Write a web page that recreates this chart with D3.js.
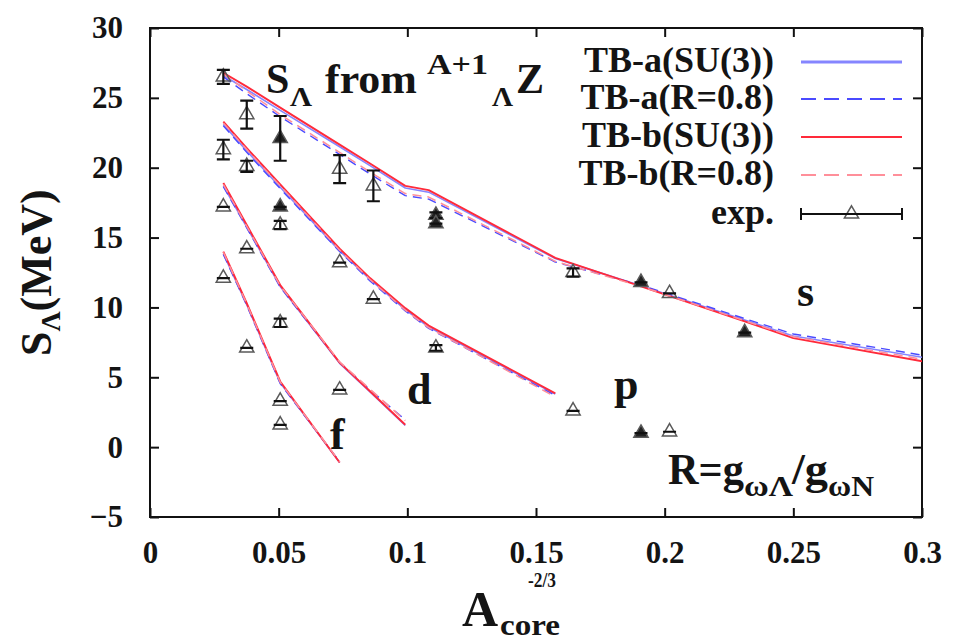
<!DOCTYPE html>
<html>
<head>
<meta charset="utf-8">
<script src="https://cdn.jsdelivr.net/npm/d3@7/dist/d3.min.js"></script>
<style>
  html, body { margin: 0; padding: 0; background: #fff; }
  svg text { font-family: "Liberation Serif", "Times New Roman", serif; font-weight: bold; fill: #141414; }
</style>
</head>
<body>
<script>
// Lambda separation energies S_Λ versus A_core^(-2/3)

// x positions of the model curves (A_core^-2/3)
const sGrid = [0.0285, 0.0376, 0.0506, 0.0737, 0.0855, 0.0992, 0.1083, 0.1575, 0.1908, 0.2311, 0.25, 0.3029];
const pGrid = [0.0285, 0.0376, 0.0506, 0.0737, 0.0855, 0.0992, 0.1083, 0.1575];
const dGrid = [0.0285, 0.0376, 0.0506, 0.0737, 0.0855, 0.0992];
const fGrid = [0.0285, 0.0376, 0.0506, 0.0737];

// TB-a(SU(3))
const sTBaSU3 = [26.6, 25.6, 24.1, 21.5, 20.15, 18.55, 18.25, 13.5, 11.55, 9.1, 7.95, 6.35];
const pTBaSU3 = [23.1, 21.2, 18.6, 14.05, 12.0, 9.85, 8.6, 3.8];
const dTBaSU3 = [18.7, 15.75, 11.5, 6.0, 3.95, 1.55];
const fTBaSU3 = [13.85, 10.2, 4.6, -1.1];
// TB-a(R=0.8)
const sTBaR = [26.5, 25.3, 23.65, 20.95, 19.55, 18.0, 17.75, 13.25, 11.6, 9.2, 8.1, 6.5];
const pTBaR = [23.0, 21.1, 18.5, 14.0, 11.9, 9.75, 8.5, 3.7];
const dTBaR = [18.65, 15.7, 11.45, 6.05, 4.1, 1.95];
const fTBaR = [13.8, 10.15, 4.55, -1.05];
// TB-b(SU(3))
const sTBbSU3 = [26.8, 25.8, 24.3, 21.65, 20.3, 18.7, 18.4, 13.55, 11.5, 9.0, 7.8, 6.05];
const pTBbSU3 = [23.3, 21.4, 18.8, 14.2, 12.1, 9.95, 8.7, 3.85];
const dTBbSU3 = [18.9, 15.9, 11.6, 6.05, 4.0, 1.6];
const fTBbSU3 = [14.0, 10.3, 4.7, -1.1];
// TB-b(R=0.8)
const sTBbR = [26.7, 25.5, 23.8, 21.1, 19.7, 18.15, 17.9, 13.3, 11.5, 9.05, 7.9, 6.2];
const pTBbR = [23.2, 21.3, 18.7, 14.1, 12.0, 9.8, 8.55, 3.6];
const dTBbR = [18.8, 15.8, 11.55, 6.1, 4.15, 1.9];
const fTBbR = [13.95, 10.25, 4.65, -1.05];

// experimental data: x, S_Λ, error, filled marker
const sExpX = [0.0285, 0.0376, 0.0506, 0.0737, 0.0868, 0.1111, 0.1111, 0.1644, 0.1908, 0.2019, 0.2311];
const sExp = [26.5, 23.8, 22.1, 19.9, 18.7, 16.6, 16.0, 12.5, 11.8, 11.0, 8.2];
const sErr = [0.5, 1.0, 1.6, 1.0, 1.1, 0.2, 0, 0.3, 0, 0, 0];
const sFill = [0, 0, 1, 0, 0, 1, 1, 0, 1, 0, 1];

const pExpX = [0.0285, 0.0376, 0.0506, 0.0506, 0.0737, 0.0868, 0.1111, 0.1644, 0.1908, 0.2019];
const pExp = [21.3, 20.1, 17.2, 15.9, 13.2, 10.6, 7.1, 2.6, 1.0, 1.1];
const pErr = [0.7, 0.4, 0, 0.3, 0, 0, 0.2, 0, 0, 0];
const pFill = [0, 0, 1, 0, 0, 0, 0, 0, 1, 0];

const dExpX = [0.0285, 0.0376, 0.0506, 0.0737];
const dExp = [17.2, 14.2, 8.9, 4.1];
const dErr = [0, 0, 0.3, 0];
const dFill = [0, 0, 0, 0];

const fExpX = [0.0285, 0.0376, 0.0506, 0.0506];
const fExp = [12.1, 7.1, 3.3, 1.6];
const fErr = [0, 0, 0, 0];
const fFill = [0, 0, 0, 0];

// axis ticks
const xTicks = [0, 0.05, 0.1, 0.15, 0.2, 0.25, 0.3];
const yTicks = [-5, 0, 5, 10, 15, 20, 25, 30];

const legendLabels = ["TB-a(SU(3))", "TB-a(R=0.8)", "TB-b(SU(3))", "TB-b(R=0.8)", "exp."];

// ---------------------------------------------------------------
const W = 958, H = 641;
const m = { left: 150, right: 922, top: 28, bottom: 517 };

const svg = d3.select("body").append("svg").attr("width", W).attr("height", H);

const x = d3.scaleLinear().domain([0, 0.3]).range([m.left, m.right]);
const y = d3.scaleLinear().domain([-5, 30]).range([m.bottom, m.top]);

svg.append("defs").append("clipPath").attr("id", "plotClip")
  .append("rect").attr("x", m.left).attr("y", m.top)
  .attr("width", m.right - m.left).attr("height", m.bottom - m.top);

// axes with inward ticks on all four sides
const fs = 31;
const axB = svg.append("g").attr("transform", `translate(0,${m.bottom})`)
  .call(d3.axisBottom(x).tickValues(xTicks).tickSize(-9).tickPadding(24).tickFormat(d3.format("")));
const axT = svg.append("g").attr("transform", `translate(0,${m.top})`)
  .call(d3.axisTop(x).tickValues(xTicks).tickSize(-9).tickFormat(""));
const axL = svg.append("g").attr("transform", `translate(${m.left},0)`)
  .call(d3.axisLeft(y).tickValues(yTicks).tickSize(-9).tickPadding(27).tickFormat(d3.format("")));
const axR = svg.append("g").attr("transform", `translate(${m.right},0)`)
  .call(d3.axisRight(y).tickValues(yTicks).tickSize(-9).tickFormat(""));
[axB, axT, axL, axR].forEach(g => {
  g.select(".domain").remove();
  g.selectAll(".tick line").attr("stroke", "#111").attr("stroke-width", 2);
  g.selectAll(".tick text").attr("font-size", fs).attr("fill", "#141414")
    .style("font-family", "'Liberation Serif', serif").style("font-weight", "bold");
});

svg.append("rect").attr("x", m.left).attr("y", m.top)
  .attr("width", m.right - m.left).attr("height", m.bottom - m.top)
  .attr("fill", "none").attr("stroke", "#111").attr("stroke-width", 2);

// model curves
const line = d3.line().x(d => x(d[0])).y(d => y(d[1]));
const styles = [
  { color: "#8585ff", width: 1.6, dash: null },
  { color: "#4a4aff", width: 1.4, dash: "9,6" },
  { color: "#ff2a3a", width: 1.9, dash: null },
  { color: "#ff8f9a", width: 1.5, dash: "9,6" }
];
const curveSets = [
  [sTBaSU3, pTBaSU3, dTBaSU3, fTBaSU3],
  [sTBaR, pTBaR, dTBaR, fTBaR],
  [sTBbSU3, pTBbSU3, dTBbSU3, fTBbSU3],
  [sTBbR, pTBbR, dTBbR, fTBbR]
];
const grids = [sGrid, pGrid, dGrid, fGrid];
const curves = svg.append("g").attr("clip-path", "url(#plotClip)");
curveSets.forEach((set, i) => {
  set.forEach((vals, k) => {
    curves.append("path")
      .attr("d", line(grids[k].map((gx, j) => [gx, vals[j]])))
      .attr("fill", "none").attr("stroke", styles[i].color)
      .attr("stroke-width", styles[i].width)
      .attr("stroke-dasharray", styles[i].dash)
      .attr("stroke-linejoin", "round");
  });
});

// experimental points with error bars
const tri = d3.symbol().type(d3.symbolTriangle).size(88);
const capW = 6.5;
function drawExp(xs, vs, es, fills) {
  const g = svg.append("g");
  xs.forEach((xv, i) => {
    const cx = x(xv), cy = y(vs[i]);
    const y0 = y(vs[i] - es[i]), y1 = y(vs[i] + es[i]);
    g.append("path").attr("d", tri()).attr("transform", `translate(${cx},${cy})`)
      .attr("fill", fills[i] ? "#222" : "none").attr("stroke", "#5a5a5a").attr("stroke-width", 1.5);
    g.append("path").attr("d", `M${cx},${y0}V${y1}M${cx - capW},${y0}H${cx + capW}M${cx - capW},${y1}H${cx + capW}`)
      .attr("stroke", "#111").attr("stroke-width", 2.2).attr("fill", "none");
  });
}
drawExp(sExpX, sExp, sErr, sFill);
drawExp(pExpX, pExp, pErr, pFill);
drawExp(dExpX, dExp, dErr, dFill);
drawExp(fExpX, fExp, fErr, fFill);

// legend
const legRight = 774, legX0 = 801, legX1 = 902;
const legRows = [62, 99, 137, 175, 214];
legendLabels.forEach((lab, i) => {
  svg.append("text").attr("x", legRight).attr("y", legRows[i] + (i === 4 ? 10 : 10))
    .attr("text-anchor", "end").attr("font-size", 36).text(lab);
});
styles.forEach((st, i) => {
  svg.append("line").attr("x1", legX0).attr("x2", legX1)
    .attr("y1", legRows[i]).attr("y2", legRows[i])
    .attr("stroke", st.color).attr("stroke-width", i === 0 ? 3 : 2)
    .attr("stroke-dasharray", st.dash ? "15,8" : null);
});
{
  const ly = legRows[4];
  svg.append("path").attr("d", tri()).attr("transform", `translate(${(legX0 + legX1) / 2},${ly})`)
    .attr("fill", "#fff").attr("stroke", "#5a5a5a").attr("stroke-width", 1.5);
  svg.append("path").attr("d", `M${legX0},${ly}H${legX1}M${legX0},${ly - 6}V${ly + 6}M${legX1},${ly - 6}V${ly + 6}`)
    .attr("stroke", "#111").attr("stroke-width", 2).attr("fill", "none");
}

// title  S_Λ from ^{A+1}_Λ Z
{
  const t = svg.append("text").attr("font-size", 42);
  t.append("tspan").attr("x", 266).attr("y", 93).text("S");
  t.append("tspan").attr("x", 290).attr("y", 106).attr("font-size", 27)
    .attr("textLength", 22).attr("lengthAdjust", "spacingAndGlyphs").text("Λ");
  t.append("tspan").attr("x", 325).attr("y", 93)
    .attr("textLength", 92).attr("lengthAdjust", "spacingAndGlyphs").text("from");
  t.append("tspan").attr("x", 427).attr("y", 74).attr("font-size", 30)
    .attr("textLength", 61).attr("lengthAdjust", "spacingAndGlyphs").text("A+1");
  t.append("tspan").attr("x", 492).attr("y", 106).attr("font-size", 27)
    .attr("textLength", 21).attr("lengthAdjust", "spacingAndGlyphs").text("Λ");
  t.append("tspan").attr("x", 516).attr("y", 93).text("Z");
}

// orbital labels
svg.append("text").attr("x", 797).attr("y", 306).attr("font-size", 44).text("s");
svg.append("text").attr("x", 614).attr("y", 399).attr("font-size", 44).text("p");
svg.append("text").attr("x", 407).attr("y", 404).attr("font-size", 44).text("d");
svg.append("text").attr("x", 330).attr("y", 449).attr("font-size", 44).text("f");

// R = g_ωΛ / g_ωN
{
  const t = svg.append("text").attr("font-size", 44);
  t.append("tspan").attr("x", 668).attr("y", 484)
    .attr("textLength", 76).attr("lengthAdjust", "spacingAndGlyphs").text("R=g");
  t.append("tspan").attr("x", 744).attr("y", 496).attr("font-size", 30)
    .attr("textLength", 49).attr("lengthAdjust", "spacingAndGlyphs").text("ωΛ");
  t.append("tspan").attr("x", 792).attr("y", 484)
    .attr("textLength", 36).attr("lengthAdjust", "spacingAndGlyphs").text("/g");
  t.append("tspan").attr("x", 828).attr("y", 496).attr("font-size", 30)
    .attr("textLength", 46).attr("lengthAdjust", "spacingAndGlyphs").text("ωN");
}

// axis titles
{
  const t = svg.append("text").attr("font-size", 50);
  t.append("tspan").attr("x", 462).attr("y", 626).text("A");
  t.append("tspan").attr("x", 500).attr("y", 635).attr("font-size", 30)
    .attr("textLength", 60).attr("lengthAdjust", "spacingAndGlyphs").text("core");
  svg.append("text").attr("x", 528).attr("y", 587).attr("font-size", 20)
    .attr("textLength", 28).attr("lengthAdjust", "spacingAndGlyphs").text("-2/3");
}
{
  const t = svg.append("text").attr("transform", "translate(51,356) rotate(-90)").attr("font-size", 44);
  t.append("tspan").text("S");
  t.append("tspan").attr("font-size", 28).attr("dy", 9).text("Λ");
  t.append("tspan").attr("dy", -9).text("(MeV)");
}
</script>
</body>
</html>
